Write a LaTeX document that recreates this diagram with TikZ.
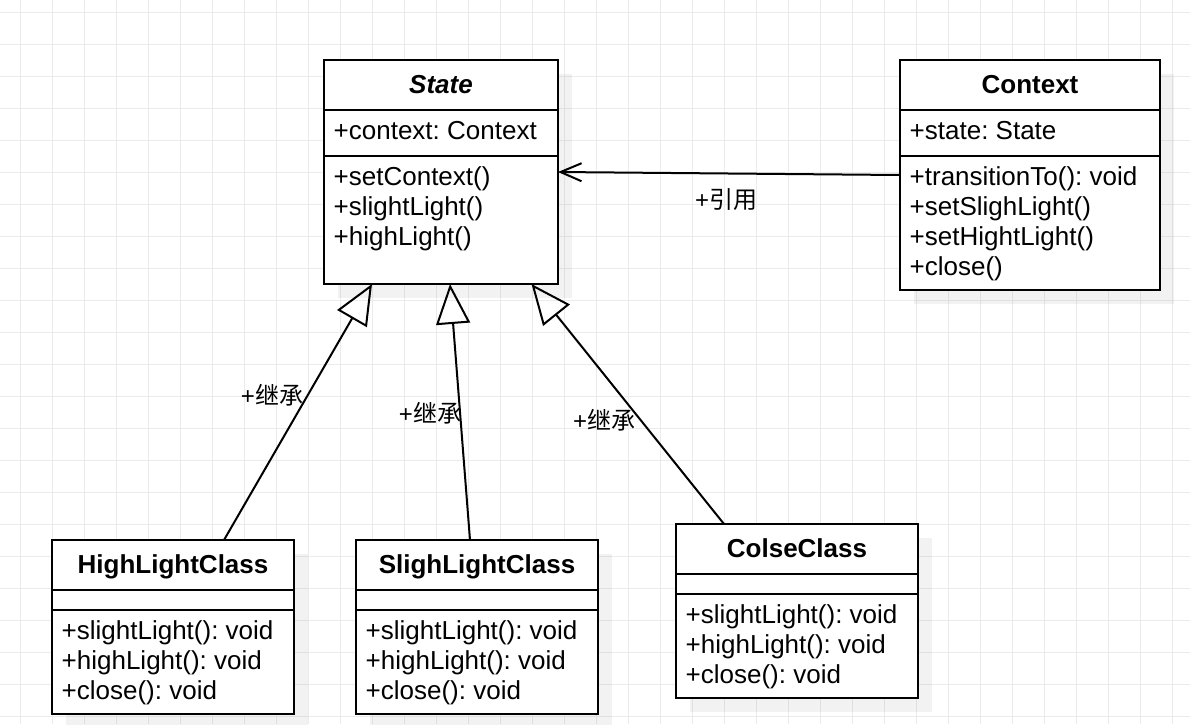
\documentclass[tikz,border=0pt]{standalone}
\usepackage{fontspec}
\setmainfont{Liberation Sans}
\newfontfamily\cjk{Noto Sans CJK SC}
\usetikzlibrary{arrows.meta,shadows,calc}
\frenchspacing
\begin{document}
\frenchspacing
\begin{tikzpicture}[x=1pt,y=-1pt,
  gridline/.style={draw=black!8, line width=1pt},
  classbox/.style={draw=black, line width=2pt, fill=white, anchor=north west,
    inner sep=0pt, outer sep=0pt,
    drop shadow={shadow xshift=14pt, shadow yshift=-14pt, fill=black, opacity=0.05}},
  sepline/.style={line width=2pt},
  title/.style={font=\fontsize{26}{30}\selectfont\bfseries, anchor=base, inner sep=0pt},
  member/.style={font=\fontsize{26}{30}\selectfont, anchor=base west, inner sep=0pt},
  lbl/.style={font=\fontsize{24}{28}\selectfont, inner sep=0pt},
  inherit/.style={line width=2pt, -{Triangle[open, length=40pt, width=34pt]}},
  assoc/.style={line width=2pt, -{Straight Barb[length=21pt, width=18pt]}}
]
\useasboundingbox (0,0) rectangle (1190,724);
\fill[white] (0,0) rectangle (1190,724);
% grid
\foreach \k in {0,...,36} { \draw[gridline] (20.5+32*\k,0) -- (20.5+32*\k,724); }
\foreach \k in {0,...,22} { \draw[gridline] (0,12.3+32*\k) -- (1190,12.3+32*\k); }

% State
\node[classbox, minimum width=234pt, minimum height=224pt] (state) at (324,60) {};
\draw[sepline] ($(state.north west)+(0,50)$) -- ($(state.north east)+(0,50)$);
\draw[sepline] ($(state.north west)+(0,96)$) -- ($(state.north east)+(0,96)$);
\node[title, font=\fontsize{26}{30}\selectfont\bfseries\itshape] (stateT) at (441,93) {State};
\node[member] (stateA1) at (333.5,139) {+context: Context};
\node[member] (stateM1) at (333.5,185) {+setContext()};
\node[member] (stateM2) at (333.5,215) {+slightLight()};
\node[member] (stateM3) at (333.5,245) {+highLight()};

% Context
\node[classbox, minimum width=260pt, minimum height=230pt] (context) at (900,60) {};
\draw[sepline] ($(context.north west)+(0,50)$) -- ($(context.north east)+(0,50)$);
\draw[sepline] ($(context.north west)+(0,96)$) -- ($(context.north east)+(0,96)$);
\node[title] (contextT) at (1030,93) {Context};
\node[member] (contextA1) at (909.5,139) {+state: State};
\node[member] (contextM1) at (909.5,185) {+transitionTo(): void};
\node[member] (contextM2) at (909.5,215) {+setSlighLight()};
\node[member] (contextM3) at (909.5,245) {+setHightLight()};
\node[member] (contextM4) at (909.5,275) {+close()};

% HighLightClass
\node[classbox, minimum width=242pt, minimum height=174pt] (hl) at (52,540) {};
\draw[sepline] ($(hl.north west)+(0,50)$) -- ($(hl.north east)+(0,50)$);
\draw[sepline] ($(hl.north west)+(0,70)$) -- ($(hl.north east)+(0,70)$);
\node[title] (hlT) at (173,573) {HighLightClass};
\node[member] (hlM1) at (61.5,639) {+slightLight(): void};
\node[member] (hlM2) at (61.5,669) {+highLight(): void};
\node[member] (hlM3) at (61.5,699) {+close(): void};

% SlighLightClass
\node[classbox, minimum width=242pt, minimum height=174pt] (sl) at (356,540) {};
\draw[sepline] ($(sl.north west)+(0,50)$) -- ($(sl.north east)+(0,50)$);
\draw[sepline] ($(sl.north west)+(0,70)$) -- ($(sl.north east)+(0,70)$);
\node[title] (slT) at (477,573) {SlighLightClass};
\node[member] (slM1) at (365.5,639) {+slightLight(): void};
\node[member] (slM2) at (365.5,669) {+highLight(): void};
\node[member] (slM3) at (365.5,699) {+close(): void};

% ColseClass
\node[classbox, minimum width=242pt, minimum height=174pt] (cl) at (676,524) {};
\draw[sepline] ($(cl.north west)+(0,50)$) -- ($(cl.north east)+(0,50)$);
\draw[sepline] ($(cl.north west)+(0,70)$) -- ($(cl.north east)+(0,70)$);
\node[title] (clT) at (797,557) {ColseClass};
\node[member] (clM1) at (685.5,623) {+slightLight(): void};
\node[member] (clM2) at (685.5,653) {+highLight(): void};
\node[member] (clM3) at (685.5,683) {+close(): void};

% connectors
\draw[assoc] (context.west) -- (state.east);
\node[lbl] (assocL) at (726,200) {+{\cjk 引用}};

\draw[inherit] ($(hl.north west)+(172,0)$) -- ($(state.south west)+(48,0)$);
\draw[inherit] ($(sl.north west)+(114,0)$) -- ($(state.south west)+(126,0)$);
\draw[inherit] ($(cl.north west)+(48,0)$) -- ($(state.south west)+(207.5,0)$);
\node[lbl] (inhL1) at (272,395) {+{\cjk 继承}};
\node[lbl] (inhL2) at (430,413) {+{\cjk 继承}};
\node[lbl] (inhL3) at (604,420) {+{\cjk 继承}};
\end{tikzpicture}
\end{document}
